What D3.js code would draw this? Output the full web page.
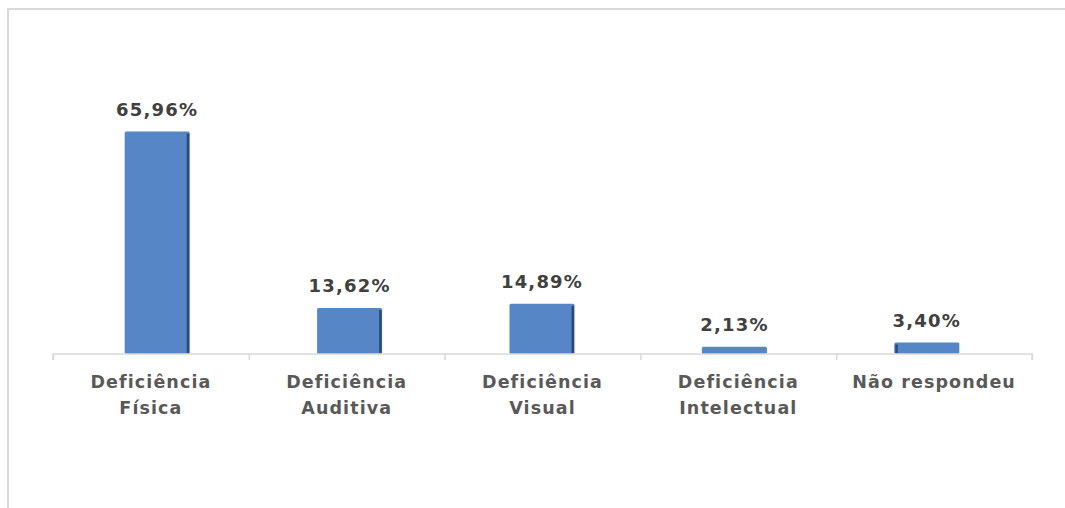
<!DOCTYPE html>
<html>
<head>
<meta charset="utf-8">
<script src="https://cdn.jsdelivr.net/npm/d3@7"></script>
<style>
  body { margin: 0; background: #fff; }
  text { font-family: "DejaVu Sans", Verdana, sans-serif; font-weight: bold; fill: #595959; }
</style>
</head>
<body>
<div id="viz"></div>
<script>
var categories = [["Deficiência", "Física"], ["Deficiência", "Auditiva"], ["Deficiência", "Visual"], ["Deficiência", "Intelectual"], ["Não respondeu"]];
var values = [65.96, 13.62, 14.89, 2.13, 3.40];
var valueLabels = ["65,96%", "13,62%", "14,89%", "2,13%", "3,40%"];

var width = 1065, height = 508,
    margin = { top: 118, right: 33, bottom: 154, left: 53 };

var svg = d3.select('#viz').append('svg')
    .attr('width', width)
    .attr('height', height);

// chart border
svg.append('path')
    .attr('d', 'M8,' + height + 'V9H' + width)
    .attr('fill', 'none')
    .attr('stroke', '#d9d9d9')
    .attr('stroke-width', 2);

// bars sit a little tighter than the axis slots in the original
var xScale = d3.scaleBand()
    .domain(d3.range(values.length))
    .range([margin.left + 8, width - margin.right - 9])
    .paddingInner(0.662)
    .paddingOuter(0.331);

var yScale = d3.scaleLinear()
    .domain([0, 70])
    .range([height - margin.bottom, margin.top]);

var base = yScale(0);

var bars = svg.selectAll('g.bar').data(values)
    .enter().append('g')
    .attr('class', 'bar');

bars.append('rect')
    .attr('x', function (d, i) { return xScale(i); })
    .attr('y', function (d) { return yScale(d); })
    .attr('width', xScale.bandwidth())
    .attr('height', function (d) { return base - yScale(d); })
    .attr('rx', 1.5)
    .attr('fill', '#5686c6');

// darker edge, like the 3D-ish excel bars
bars.filter(function (d, i) { return i < 3 || i == 4; })
    .append('rect')
    .attr('x', function (d, i) { return i == 3 ? xScale(4) + 1 : xScale(i) + xScale.bandwidth() - 3; })
    .attr('y', function (d) { return yScale(d) + 2; })
    .attr('width', 2.5)
    .attr('height', function (d) { return base - yScale(d) - 3; })
    .attr('fill', '#2b4a78');

bars.append('text')
    .attr('x', function (d, i) { return xScale(i) + xScale.bandwidth() / 2; })
    .attr('y', function (d) { return yScale(d) - 16; })
    .attr('text-anchor', 'middle')
    .attr('font-size', '18px')
    .attr('letter-spacing', '1.2px')
    .style('fill', '#404040')
    .text(function (d, i) { return valueLabels[i]; });

// category axis
var xOuter = d3.scaleLinear()
    .domain([0, values.length])
    .range([margin.left, width - margin.right]);

var xAxis = svg.append('g')
    .attr('transform', 'translate(0,' + base + ')')
    .call(d3.axisBottom(xOuter).ticks(values.length).tickSize(6).tickFormat(''));

xAxis.selectAll('line').attr('stroke', '#d9d9d9').attr('stroke-width', 1.5);
xAxis.select('.domain').attr('stroke', '#d9d9d9').attr('stroke-width', 1.5)
    .attr('d', 'M' + margin.left + ',6V0H' + (width - margin.right) + 'V6');

var catLabels = svg.selectAll('text.cat').data(categories)
    .enter().append('text')
    .attr('class', 'cat')
    .attr('text-anchor', 'middle')
    .attr('font-size', '17.5px')
    .attr('letter-spacing', '1.1px')
    .attr('transform', function (d, i) {
        return 'translate(' + (xOuter(i) + xOuter(i + 1)) / 2 + ',' + (base + 34) + ')';
    });

catLabels.selectAll('tspan').data(function (d) { return d; })
    .enter().append('tspan')
    .attr('x', 0)
    .attr('dy', function (d, i) { return i == 0 ? 0 : 26; })
    .text(function (d) { return d; });
</script>
</body>
</html>
